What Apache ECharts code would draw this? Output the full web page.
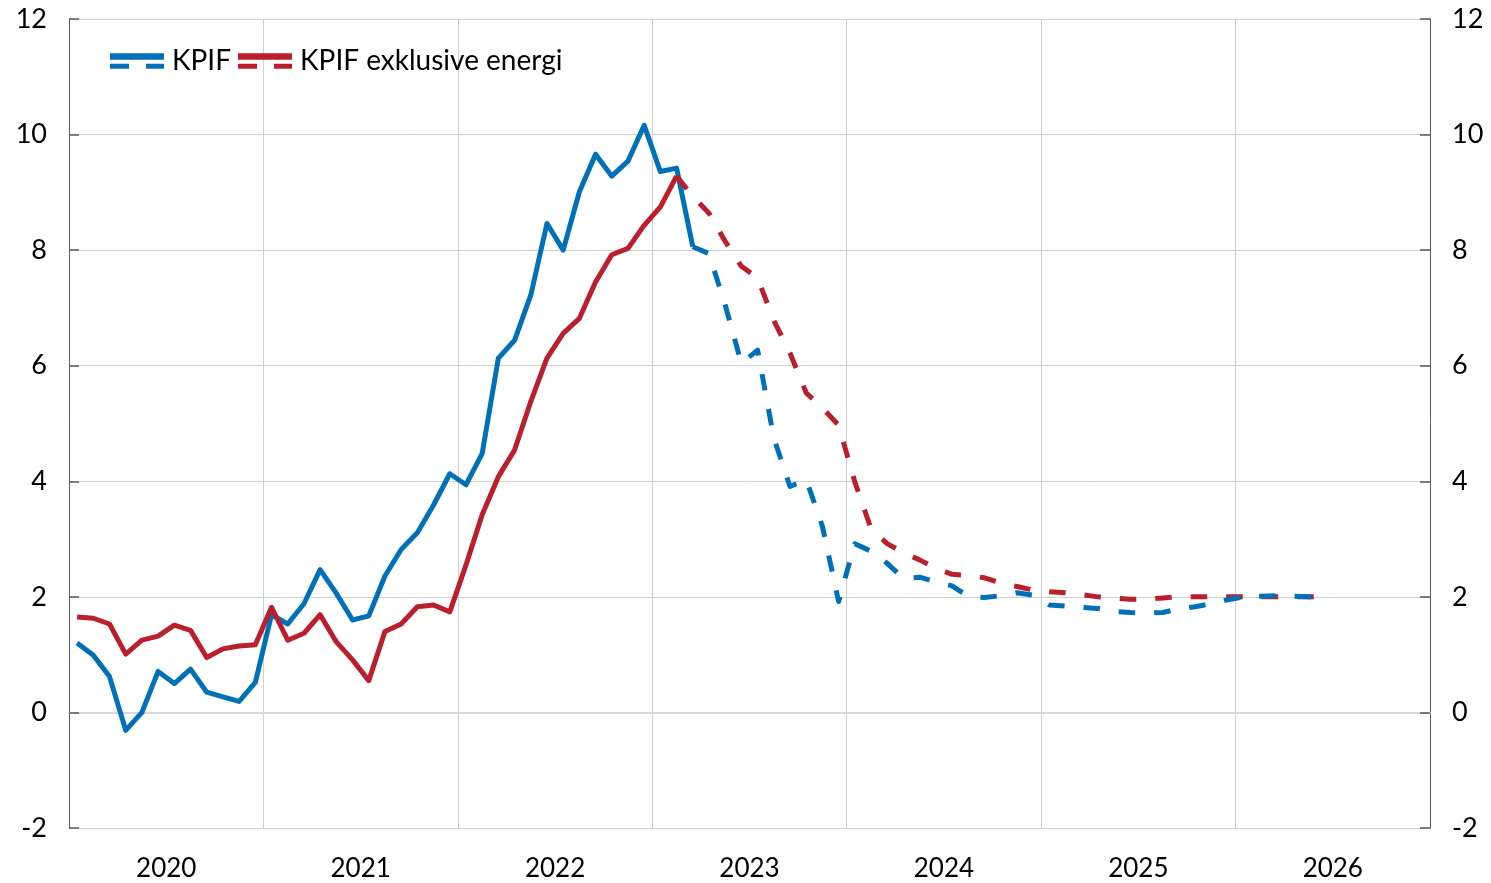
<!DOCTYPE html>
<html><head><meta charset="utf-8">
<script src="https://cdn.jsdelivr.net/npm/echarts@6/dist/echarts.min.js"></script>
<style>html,body{margin:0;padding:0;background:#fff}#c{width:1491px;height:883px}</style>
</head><body><div id="c"></div>
<script>
// ---- data ----
const years = ['2020','2021','2022','2023','2024','2025','2026'];
const yTicks = [-2, 0, 2, 4, 6, 8, 10, 12];

// KPIF, outcome (monthly from Jan 2020)
const kpifActual = [1.20,0.99,0.62,-0.31,0.00,0.71,0.50,0.75,0.35,0.27,0.19,0.52,
  1.69,1.53,1.88,2.47,2.06,1.60,1.67,2.36,2.82,3.11,3.59,4.13,
  3.94,4.48,6.13,6.44,7.22,8.46,8.00,9.01,9.66,9.28,9.54,10.16,
  9.36,9.42,8.06];
// KPIF, forecast (starts Mar 2023)
const kpifForecastStart = 38;
const kpifForecast = [8.06,7.94,7.05,6.04,6.27,4.75,3.91,4.03,3.22,1.92,
  2.92,2.79,2.58,2.32,2.34,2.26,2.19,2.01,1.99,2.02,2.07,2.03,
  1.86,1.84,1.82,1.80,1.75,1.73,1.72,1.73,1.79,1.83,1.88,1.95,
  2.00,2.01,2.02,2.01,2.00,1.98];

// KPIF exklusive energi, outcome
const kpifxActual = [1.65,1.63,1.53,1.01,1.25,1.32,1.51,1.42,0.95,1.10,1.15,1.17,
  1.82,1.25,1.37,1.69,1.22,0.91,0.55,1.40,1.53,1.83,1.86,1.74,
  2.55,3.42,4.08,4.54,5.38,6.13,6.56,6.82,7.45,7.92,8.03,8.43,
  8.75,9.28];
// KPIF exklusive energi, forecast (starts Feb 2023)
const kpifxForecastStart = 37;
const kpifxForecast = [9.28,8.93,8.64,8.15,7.72,7.52,6.78,6.22,5.53,5.27,4.97,
  3.99,3.18,2.92,2.76,2.64,2.50,2.39,2.37,2.33,2.24,2.18,2.12,
  2.09,2.07,2.04,2.00,1.98,1.96,1.96,1.98,2.00,2.00,2.00,2.00,
  2.00,2.00,2.00,2.00,2.00,2.00];

// ---- build ----
const months = [];
years.forEach(y => { for (let m = 1; m <= 12; m++) months.push(y + '-' + (m < 10 ? '0' : '') + m); });
function pad(start, vals) {
  const a = new Array(months.length).fill(null);
  vals.forEach((v, k) => { a[start + k] = v; });
  return a;
}
const BLUE = '#0070b8', RED = '#bb1e2d';
const FONT = 'Lato, "Open Sans", sans-serif';
const iconPath = 'path://M0,0H54V6.5H0Z M0,10.5H19V15.5H0Z M36,10.5H54V15.5H36Z';
const dash = [16.5, 19];

const chart = echarts.init(document.getElementById('c'), null, {renderer: 'canvas'});
const yAxisBase = {
  type: 'value', min: yTicks[0], max: yTicks[yTicks.length - 1], interval: 2,
  axisLine: {show: true, lineStyle: {color: '#595959', width: 1}},
  axisTick: {show: true, inside: true, length: 10, lineStyle: {color: '#595959', width: 1.5}},
  axisLabel: {color: '#000', fontSize: 27, fontFamily: FONT, margin: 22},
};
chart.setOption({
  animation: false,
  backgroundColor: '#fff',
  grid: {left: 69, right: 61, top: 19, bottom: 55, containLabel: false},
  legend: {
    data: ['KPIF', 'KPIF exklusive energi'],
    left: 110, top: 47, padding: 0,
    icon: iconPath,
    itemWidth: 54, itemHeight: 15.5, itemGap: 7,
    itemStyle: {borderWidth: 0},
    textStyle: {color: '#000', fontSize: 28, fontFamily: FONT, padding: [0, 0, 0, 3]},
  },
  xAxis: [
    {type: 'category', data: months, boundaryGap: true,
     axisLine: {show: false}, axisTick: {show: false}, axisLabel: {show: false}, splitLine: {show: false}},
    {type: 'category', data: years, boundaryGap: true, position: 'bottom',
     axisLine: {show: true, lineStyle: {color: '#d9d9d9', width: 2}},
     axisTick: {show: false},
     axisLabel: {color: '#000', fontSize: 26, fontFamily: FONT, margin: 28},
     splitLine: {show: true, lineStyle: {color: '#d0d0d0', width: 1}}}
  ],
  yAxis: [
    Object.assign({}, yAxisBase, {position: 'left',
      splitLine: {show: true, lineStyle: {color: '#d0d0d0', width: 1}}}),
    Object.assign({}, yAxisBase, {position: 'right', splitLine: {show: false}})
  ],
  series: [
    {name: 'KPIF', type: 'line', xAxisIndex: 0, yAxisIndex: 0, data: pad(0, kpifActual),
     showSymbol: false, symbol: 'none', color: BLUE, z: 2,
     lineStyle: {color: BLUE, width: 5, join: 'round'}},
    {name: 'KPIF exklusive energi', type: 'line', xAxisIndex: 0, yAxisIndex: 0, data: pad(0, kpifxActual),
     showSymbol: false, symbol: 'none', color: RED, z: 3,
     lineStyle: {color: RED, width: 5, join: 'round'}},
    {name: 'KPIF exklusive energi prognos', type: 'line', xAxisIndex: 0, yAxisIndex: 0,
     data: pad(kpifxForecastStart, kpifxForecast),
     showSymbol: false, symbol: 'none', color: RED, z: 4,
     lineStyle: {color: RED, width: 5, type: dash, cap: 'butt', join: 'round'}},
    {name: 'KPIF prognos', type: 'line', xAxisIndex: 0, yAxisIndex: 0,
     data: pad(kpifForecastStart, kpifForecast),
     showSymbol: false, symbol: 'none', color: BLUE, z: 5,
     lineStyle: {color: BLUE, width: 5, type: dash, cap: 'butt', join: 'round'}}
  ]
});
</script></body></html>
